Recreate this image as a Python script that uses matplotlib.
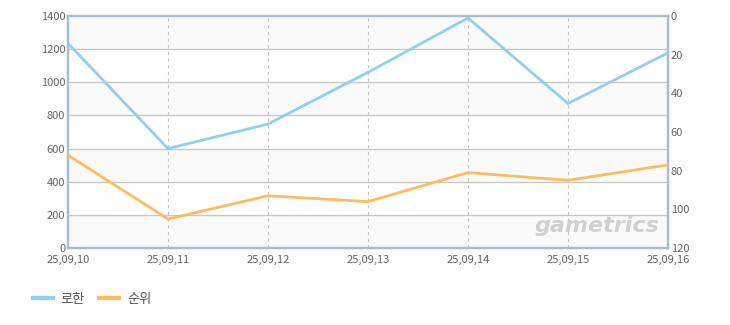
import matplotlib
matplotlib.use("Agg")
import matplotlib.pyplot as plt
from matplotlib.lines import Line2D

plt.rcParams['font.family'] = ['Noto Sans CJK KR', 'DejaVu Sans']

dates = ["25,09,10", "25,09,11", "25,09,12", "25,09,13", "25,09,14", "25,09,15", "25,09,16"]
users = [1235, 600, 748, 1060, 1388, 872, 1178]
rank = [72, 105, 93, 96, 81, 85, 77]

left_ticks = [0, 200, 400, 600, 800, 1000, 1200, 1400]
right_ticks = [0, 20, 40, 60, 80, 100, 120]

blue = "#8fd0ef"
orange = "#fbbd5e"
spine_c = "#a9bdd2"
txt_c = "#666666"

fig = plt.figure(figsize=(7.3, 3.25), dpi=100)
fig.patch.set_facecolor("#fcfcfc")
ax = fig.add_axes([68/730, 1-248/325, 600/730, 232/325])
ax.set_facecolor("white")

x = list(range(len(dates)))
ax.set_xlim(0, len(dates)-1)
ax.set_ylim(0, 1400)

# alternating bands
for i in range(0, 7):
    if i % 2 == 0:
        ax.axhspan(left_ticks[i], left_ticks[i+1], color="#fafafa", zorder=0, lw=0)

for t in left_ticks[1:-1]:
    ax.axhline(t, color="#c8c8c8", lw=1, zorder=1)
for xi in x[1:-1]:
    ax.axvline(xi, color="#c4c4c4", lw=0.8, ls=(0, (3, 3)), zorder=1)

ax.plot(x, users, color=blue, lw=2, zorder=3, solid_joinstyle="miter")
ax.set_yticks(left_ticks)
ax.set_xticks(x)
ax.set_xticklabels(dates)
ax.tick_params(axis="both", colors=txt_c, labelsize=8, length=0)
ax.tick_params(axis="y", pad=2)
ax.tick_params(axis="x", pad=5)

ax2 = ax.twinx()
ax2.set_ylim(120, 0)
ax2.plot(x, rank, color=orange, lw=2, zorder=3)
ax2.set_yticks(right_ticks)
ax2.tick_params(axis="y", colors=txt_c, labelsize=8, length=0, pad=2)

for a in (ax, ax2):
    for s in a.spines.values():
        s.set_color(spine_c)
        s.set_linewidth(1.6)

ax.text(0.985, 0.05, "gametrics", transform=ax.transAxes, ha="right", va="bottom",
        fontsize=16, fontstyle="italic", fontweight="bold", color="#d0d0d0",
        family="DejaVu Sans", zorder=2)

# legend
handles = [Line2D([0], [0], color=blue, lw=3), Line2D([0], [0], color=orange, lw=3)]
fig.legend(handles, ["로한", "순위"], loc="center left", bbox_to_anchor=(21/730, 1-299/325),
           ncol=2, frameon=False, fontsize=9.5, handlelength=1.5, columnspacing=1.1,
           handletextpad=0.6, labelcolor="#555555")

fig.savefig("out.png", dpi=100, facecolor=fig.get_facecolor())
